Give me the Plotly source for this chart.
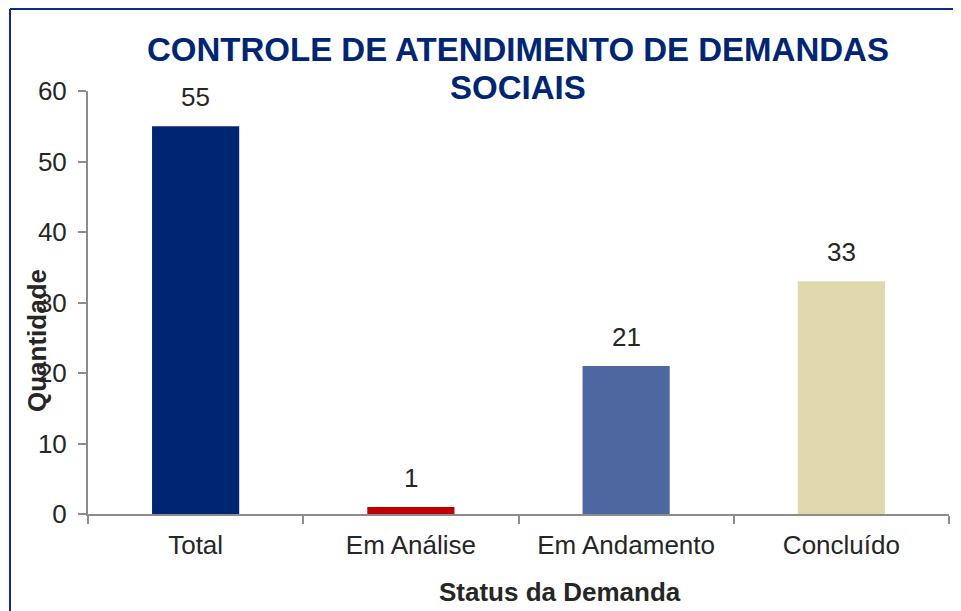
import plotly.graph_objects as go

# dados do grafico
status = ["Total", "Em Análise", "Em Andamento", "Concluído"]
quantidade = [55, 1, 21, 33]
cores = ["#002673", "#C00000", "#4D67A0", "#E0D8AD"]
titulo = ["CONTROLE DE ATENDIMENTO DE DEMANDAS", "SOCIAIS"]

# a pagina tem margem de 8px no body
OFF = 8
W, H = 961 - 2 * OFF, 611 - OFF
L, T = 88 - OFF, 91 - OFF
R = W - (949 - OFF)
B = H - (514 - OFF)

fig = go.Figure()
fig.add_trace(go.Bar(
    x=status, y=quantidade,
    marker=dict(color=cores, line=dict(width=0)),
    hoverinfo="x+y",
))

pw = W - L - R
ph = H - T - B

def px(x):
    return (x - OFF - L) / pw

def py(y):
    return (H - B - (y - OFF)) / ph

# rotulos de valor
for s, q in zip(status, quantidade):
    fig.add_annotation(x=s, y=q, text=str(q), showarrow=False,
                       xanchor="center", yanchor="bottom", yshift=12,
                       font=dict(size=26, color="#262626"))

# moldura azul (so esquerda e topo aparecem)
fig.add_shape(type="line", xref="paper", yref="paper",
              x0=px(10), y0=py(9), x1=px(10), y1=py(700),
              line=dict(color="#0B2C8A", width=2))
fig.add_shape(type="line", xref="paper", yref="paper",
              x0=px(10), y0=py(9), x1=px(1000), y1=py(9),
              line=dict(color="#0B2C8A", width=2))

# titulo em duas linhas
for txt, yy in zip(titulo, [50, 87]):
    fig.add_annotation(text="<b>%s</b>" % txt, xref="paper", yref="paper",
                       x=px(517.5), y=py(yy), showarrow=False,
                       xanchor="center", yanchor="middle",
                       font=dict(size=33, color="#002673"))

# titulos dos eixos
fig.add_annotation(text="<b>Quantidade</b>", xref="paper", yref="paper",
                   x=px(37), y=py(341), textangle=-90, showarrow=False,
                   xanchor="center", yanchor="middle",
                   font=dict(size=26, color="#262626"))
fig.add_annotation(text="<b>Status da Demanda</b>", xref="paper", yref="paper",
                   x=px(560), y=py(592), showarrow=False,
                   xanchor="center", yanchor="middle",
                   font=dict(size=26, color="#262626"))

fig.update_layout(
    width=W, height=H,
    margin=dict(l=L, r=R, t=T, b=B),
    paper_bgcolor="white", plot_bgcolor="white",
    font=dict(family="Liberation Sans, Arial", color="#262626"),
    showlegend=False,
    bargap=0.595,
    xaxis=dict(showline=True, linecolor="#8C8C8C", linewidth=2,
               ticks="outside", tickson="boundaries", ticklen=8,
               tickcolor="#8C8C8C", tickwidth=2,
               tickfont=dict(size=26, color="#262626"),
               ticklabelstandoff=7,
               showgrid=False),
    yaxis=dict(range=[0, 60], dtick=10, showline=True, linecolor="#8C8C8C",
               linewidth=2, ticks="outside", ticklen=8, tickcolor="#8C8C8C",
               tickwidth=2, tickfont=dict(size=26, color="#262626"),
               ticklabelstandoff=6,
               showgrid=False, zeroline=False),
)

fig.write_html("out.html", config={"displayModeBar": False})
